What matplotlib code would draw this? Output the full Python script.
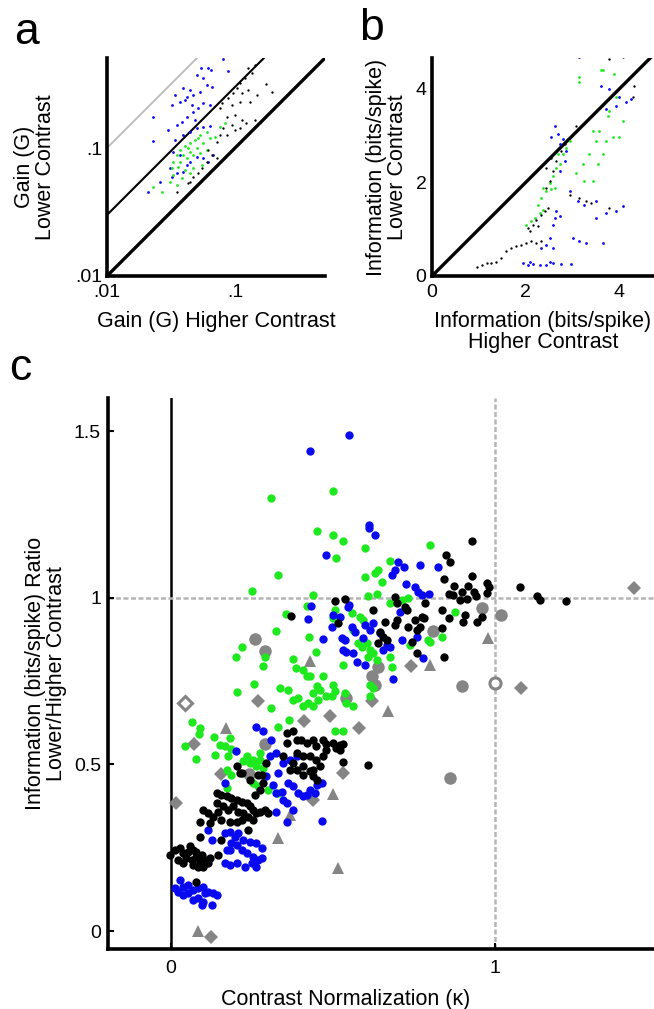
import numpy as np
import matplotlib.pyplot as plt

plt.rcParams['font.family'] = ['Liberation Sans', 'DejaVu Sans']

BLUE = '#0a0af0'
GREEN = '#1ee81e'
GRAY = '#858585'

# ---- panel a: gain (G), higher vs lower contrast ----
gain_hi_blue = [0.0811, 0.0543, 0.0619, 0.0650, 0.0877, 0.0502, 0.0566, 0.0446, 0.0395, 0.0340,
                0.0420, 0.0473, 0.0533, 0.0601, 0.0658, 0.0320, 0.0372, 0.0407, 0.0459, 0.0518,
                0.0566, 0.0638, 0.0230, 0.0301, 0.0350, 0.0383, 0.0420, 0.0473, 0.0488, 0.0340,
                0.0395, 0.0446, 0.0502, 0.0566, 0.0638, 0.0230, 0.0330, 0.0372, 0.0420, 0.0310,
                0.0350, 0.0446, 0.0502, 0.0566, 0.0619, 0.0678, 0.0259, 0.0210, 0.0395, 0.0320]
gain_lo_blue = [0.497, 0.425, 0.420, 0.407, 0.403, 0.372, 0.351, 0.284, 0.293, 0.260,
                0.252, 0.260, 0.276, 0.311, 0.302, 0.217, 0.230, 0.237, 0.217, 0.204,
                0.223, 0.217, 0.176, 0.138, 0.151, 0.161, 0.176, 0.192, 0.166, 0.116,
                0.126, 0.134, 0.143, 0.147, 0.149, 0.114, 0.0938, 0.0883, 0.0738, 0.0695,
                0.0635, 0.0783, 0.0857, 0.0832, 0.0783, 0.0883, 0.0546, 0.0456, 0.0655, 0.0597]
gain_hi_green = [0.0601, 0.0533, 0.0488, 0.0446, 0.0407, 0.0372, 0.0350, 0.0395, 0.0446, 0.0502,
                 0.0566, 0.0638, 0.0698, 0.0330, 0.0372, 0.0420, 0.0473, 0.0533, 0.0601, 0.0320,
                 0.0361, 0.0407, 0.0473, 0.0550, 0.0330, 0.0383, 0.0446, 0.0310, 0.0350, 0.0230,
                 0.0267, 0.0764, 0.0836, 0.0433, 0.0518]
gain_lo_green = [0.134, 0.126, 0.116, 0.109, 0.103, 0.0966, 0.0883, 0.0883, 0.0938, 0.0995,
                 0.109, 0.119, 0.123, 0.0783, 0.0783, 0.0832, 0.0883, 0.0910, 0.0966, 0.0695,
                 0.0716, 0.0675, 0.0695, 0.0738, 0.0615, 0.0579, 0.0635, 0.0546, 0.0514, 0.0499,
                 0.0456, 0.147, 0.156, 0.0995, 0.119]
gain_hi_black = [0.127, 0.143, 0.135, 0.120, 0.109, 0.103, 0.0970, 0.113, 0.127, 0.175,
                 0.194, 0.148, 0.0887, 0.0787, 0.0764, 0.0942, 0.109, 0.131, 0.0861, 0.100,
                 0.113, 0.123, 0.143, 0.0942, 0.0811, 0.0764, 0.0861, 0.100, 0.109, 0.0719,
                 0.0619, 0.0658, 0.0719, 0.0601, 0.0550, 0.0518, 0.0473, 0.0446, 0.0350, 0.0433]
gain_lo_black = [0.420, 0.446, 0.384, 0.351, 0.321, 0.293, 0.268, 0.268, 0.284, 0.315,
                 0.276, 0.260, 0.244, 0.223, 0.204, 0.217, 0.230, 0.230, 0.176, 0.181,
                 0.166, 0.156, 0.166, 0.151, 0.143, 0.126, 0.126, 0.138, 0.143, 0.112,
                 0.0966, 0.0883, 0.0832, 0.0783, 0.0695, 0.0635, 0.0597, 0.0546, 0.0456, 0.0530]

# ---- panel b: information (bits/spike), higher vs lower contrast ----
info_hi_black = [0.951, 1.057, 1.164, 1.27, 1.376, 1.483, 1.589, 1.696, 1.802, 1.908,
                 2.015, 2.121, 2.227, 2.334, 2.05, 2.157, 2.227, 2.334, 2.405, 2.476,
                 2.086, 2.263, 2.44, 2.511, 2.582, 2.653, 2.759, 2.83, 2.44, 2.547,
                 2.936, 3.149, 3.291, 3.397, 3.788, 4.32, 4.284, 3.078, 4.07, 3.788]
info_lo_black = [0.201, 0.237, 0.272, 0.272, 0.308, 0.380, 0.524, 0.595, 0.631, 0.667,
                 0.703, 0.738, 0.703, 0.738, 1.025, 1.097, 1.205, 1.312, 1.384, 1.456,
                 0.954, 1.061, 1.886, 2.029, 2.244, 2.459, 2.674, 2.818, 2.316, 2.531,
                 1.742, 1.671, 1.6, 1.563, 1.456, 4.072, 3.821, 3.212, 4.68, 4.645]
info_hi_green = [2.015, 2.121, 2.192, 2.298, 2.369, 2.263, 2.334, 2.44, 2.547, 2.618,
                 2.369, 2.511, 2.582, 2.653, 2.724, 2.795, 2.865, 2.688, 2.936, 3.149,
                 3.149, 3.078, 3.22, 3.362, 3.504, 3.433, 3.575, 3.717, 3.859, 4.0,
                 3.256, 3.433, 3.646, 3.752, 3.93, 3.646, 3.894, 3.788, 4.07, 3.539, 3.61]
info_lo_green = [1.097, 1.169, 1.24, 1.348, 1.42, 1.527, 1.671, 1.814, 1.85, 1.886,
                 1.886, 1.993, 2.137, 2.316, 2.388, 2.603, 2.746, 2.603, 2.889, 4.144,
                 4.251, 2.208, 2.388, 2.603, 2.889, 3.104, 3.104, 2.889, 2.961, 2.961,
                 2.029, 2.029, 2.603, 3.427, 3.821, 4.394, 4.323, 3.534, 3.319, 2.388, 4.394]
info_hi_blue = [3.149, 3.61, 3.788, 4.0, 4.142, 4.249, 3.93, 3.717, 2.617, 2.547,
                2.688, 2.795, 2.724, 2.865, 2.83, 2.724, 2.936, 3.114, 3.256, 3.504,
                3.717, 3.93, 4.07, 3.504, 3.007, 3.149, 3.291, 3.646, 2.653, 2.617,
                2.582, 2.724, 2.511, 2.44, 2.582, 2.334, 1.944, 2.05, 2.157, 2.298,
                2.44, 2.582, 2.759, 2.972, 2.086, 2.511]
info_lo_blue = [4.681, 4.072, 4.0, 3.821, 3.713, 3.785, 3.642, 3.570, 3.212, 2.961,
                3.032, 2.925, 2.818, 2.674, 2.459, 2.244, 1.814, 1.6, 1.527, 1.6,
                1.348, 1.384, 1.492, 1.24, 0.81, 0.738, 0.703, 0.703, 1.384, 1.24,
                1.097, 1.276, 0.81, 0.667, 0.595, 0.595, 0.272, 0.237, 0.251, 0.237,
                0.237, 0.272, 0.251, 0.251, 0.308, 0.308]

# ---- panel c: contrast normalization (kappa) vs information ratio ----
kappa_black = [0.86, 0.844, 0.928, 0.873, 0.899, 0.918, 0.936, 0.941, 0.975, 0.981,
               0.975, 1.078, 0.857, 0.872, 0.893, 0.913, 0.506, 0.537, 0.625, 0.692,
               0.697, 0.723, 0.73, 0.785, 0.836, 0.908, 0.901, 0.857, 0.944, 0.96,
               0.661, 0.697, 0.692, 0.733, 0.754, 0.774, 0.781, 0.769, 0.761, 0.836,
               0.517, 0.645, 0.656, 0.666, 0.64, 0.743, 0.761, 0.843,
               0.93, 0.85, 1.13, 1.14, 1.22,
               0.371, 0.357, 0.377, 0.357, 0.388, 0.403, 0.419, 0.439, 0.449, 0.47,
               0.48, 0.388, 0.408, 0.429, 0.449, 0.46, 0.439, 0.408, 0.378, 0.367,
               0.47, 0.347, 0.205, 0.218, 0.28, 0.295,
               0.499, 0.522, 0.522, 0.53, 0.607, 0.48, 0.51, 0.53,
               0.213, 0.244, 0.269, 0.285, 0.275, 0.259, 0.388, 0.408, 0.429, 0.439, 0.45,
               0.141, 0.156, 0.172, 0.187, 0.203, 0.218, 0.234, 0.244, 0.254, 0.264,
               0.275, 0.29, 0.3, 0.141, 0.162, 0.177, 0.192, 0.208, 0.223, 0.239,
               0.254, 0.218, 0.1, 0.115, 0.131, 0.146, 0.089, 0.12, 0.156, 0.182,
               0.203, 0.239, 0.089, 0.156,
               -0.003, 0.012, 0.028, 0.038, 0.053, 0.069, 0.048, 0.064, 0.079, 0.089,
               0.105, 0.115, 0.1, 0.084, 0.069, 0.038, 0.023, 0.12, 0.059, 0.079, 0.095,
               0.079, 0.146]
ratio_black = [1.107, 1.057, 1.066, 1.037, 1.019, 1.037, 1.019, 1.007, 1.044, 1.034,
               1.014, 1.034, 1.011, 1.009, 0.994, 0.996, 0.992, 0.996, 0.964, 1.004,
               0.984, 0.974, 0.964, 0.984, 0.964, 0.949, 0.929, 0.939, 0.929, 0.944,
               0.929, 0.934, 0.919, 0.914, 0.934, 0.944, 0.939, 0.914, 0.904, 0.909,
               0.924, 0.899, 0.884, 0.874, 0.864, 0.869, 0.836, 0.824,
               1.17, 1.13, 1.005, 0.995, 0.991,
               0.946, 0.594, 0.599, 0.564, 0.574, 0.574, 0.564, 0.574, 0.554, 0.574,
               0.544, 0.534, 0.524, 0.524, 0.514, 0.494, 0.483, 0.494, 0.504, 0.483,
               0.524, 0.524, 0.496, 0.474, 0.469, 0.504,
               0.564, 0.559, 0.544, 0.506, 0.497, 0.56, 0.55, 0.56,
               0.474, 0.454, 0.469, 0.444, 0.424, 0.409, 0.484, 0.469, 0.479, 0.464, 0.454,
               0.414, 0.409, 0.404, 0.398, 0.393, 0.388, 0.384, 0.374, 0.363, 0.353,
               0.358, 0.363, 0.353, 0.384, 0.374, 0.363, 0.374, 0.358, 0.353, 0.343,
               0.333, 0.333, 0.363, 0.353, 0.343, 0.358, 0.328, 0.323, 0.333, 0.328,
               0.328, 0.303, 0.283, 0.273,
               0.229, 0.243, 0.248, 0.233, 0.238, 0.243, 0.218, 0.213, 0.223, 0.208,
               0.213, 0.203, 0.193, 0.193, 0.198, 0.203, 0.213, 0.218, 0.254, 0.238, 0.228,
               0.148, 0.228]

kappa_blue = [0.55, 0.43, 0.61, 0.61, 0.63, 0.48, 0.55,
              0.702, 0.718, 0.692, 0.682, 0.769, 0.823, 0.726, 0.754, 0.764, 0.774,
              0.798, 0.548, 0.501, 0.496, 0.522, 0.558, 0.568, 0.599, 0.625, 0.615,
              0.594, 0.527, 0.537, 0.532, 0.542, 0.563, 0.573, 0.599, 0.645, 0.666,
              0.676, 0.656, 0.712, 0.759, 0.777, 0.687, 0.707,
              0.434, 0.422, 0.468, 0.262, 0.285, 0.308, 0.201, 0.305, 0.326, 0.347,
              0.331, 0.367, 0.388,
              0.167, 0.295, 0.316, 0.326, 0.342, 0.347, 0.357, 0.362, 0.377, 0.393,
              0.408, 0.419, 0.429, 0.445, 0.45, 0.465, 0.377, 0.326, 0.357, 0.465,
              0.115, 0.126, 0.167, 0.182, 0.197, 0.208, 0.223, 0.244, 0.264, 0.28,
              0.187, 0.203, 0.218, 0.182, 0.234, 0.254, 0.269, 0.28, 0.264, 0.249,
              0.167, 0.182, 0.203, 0.228, 0.172,
              0.028, 0.012, 0.038, 0.054, 0.069, 0.084, 0.1, 0.115, 0.131, 0.141,
              0.069, 0.084, 0.1, 0.126, 0.095, 0.054, 0.038, 0.023, 0.105]
ratio_blue = [1.49, 1.44, 1.22, 1.21, 1.19, 1.13, 0.98,
              1.109, 1.094, 1.084, 1.069, 1.099, 1.092, 1.042, 1.034, 1.019, 1.009,
              1.011, 0.974, 0.949, 0.914, 0.944, 0.914, 0.899, 0.919, 0.924, 0.904,
              0.879, 0.879, 0.874, 0.844, 0.839, 0.834, 0.809, 0.799, 0.894, 0.859,
              0.854, 0.844, 0.874, 0.882, 0.819, 0.756, 0.959,
              0.976, 0.936, 0.876, 0.612, 0.599, 0.574, 0.541, 0.524, 0.534, 0.504,
              0.474, 0.514, 0.524,
              0.444, 0.464, 0.438, 0.414, 0.418, 0.394, 0.384, 0.444, 0.434, 0.414,
              0.404, 0.409, 0.424, 0.414, 0.438, 0.444, 0.363, 0.358, 0.328, 0.33,
              0.303, 0.273, 0.293, 0.298, 0.283, 0.293, 0.273, 0.268, 0.263, 0.248,
              0.263, 0.258, 0.243, 0.243, 0.233, 0.223, 0.213, 0.218, 0.193, 0.203,
              0.203, 0.198, 0.203, 0.193, 0.243,
              0.153, 0.128, 0.133, 0.138, 0.123, 0.128, 0.133, 0.118, 0.113, 0.108,
              0.093, 0.098, 0.088, 0.078, 0.078, 0.113, 0.108, 0.118, 0.113]

kappa_green = [0.31, 0.50, 0.45, 0.50, 0.53, 0.60, 0.51, 0.33, 0.25, 0.44, 0.80,
               0.599, 0.63, 0.64, 0.651, 0.677, 0.609, 0.635, 0.677, 0.712, 0.733,
               0.877, 0.506, 0.501, 0.558, 0.584, 0.594, 0.563, 0.578, 0.589, 0.604,
               0.615, 0.625, 0.609, 0.635, 0.677, 0.682, 0.738, 0.795, 0.8, 0.836,
               0.532, 0.501, 0.506, 0.496, 0.537, 0.542, 0.563, 0.615, 0.625, 0.615,
               0.532, 0.506,
               0.419, 0.354, 0.326, 0.427, 0.218, 0.2, 0.29, 0.285, 0.376, 0.448,
               0.385, 0.408, 0.419, 0.429, 0.45, 0.439, 0.46, 0.47, 0.257, 0.203,
               0.336, 0.36, 0.378, 0.393, 0.408, 0.424, 0.439, 0.455, 0.48, 0.309,
               0.064, 0.089, 0.088, 0.133, 0.182, 0.043, 0.151, 0.167, 0.187, 0.33,
               0.365, 0.136, 0.079, 0.234, 0.254, 0.275, 0.264, 0.244, 0.275, 0.285,
               0.223, 0.177, 0.172,
               0.187, 0.254, 0.269, 0.3, 0.331, 0.172]
ratio_green = [1.30, 1.32, 1.20, 1.19, 1.17, 1.15, 1.12, 1.07, 1.02, 1.01, 1.16,
               1.064, 1.074, 1.084, 1.049, 1.111, 1.006, 1.011, 0.984, 0.994, 0.999,
               0.959, 0.964, 0.939, 0.954, 0.944, 0.934, 0.904, 0.864, 0.854, 0.864,
               0.844, 0.834, 0.824, 0.814, 0.824, 0.794, 0.859, 0.874, 0.869, 0.882,
               0.799, 0.739, 0.719, 0.704, 0.714, 0.684, 0.674, 0.739, 0.729, 0.704,
               0.599, 0.599,
               0.976, 0.951, 0.901, 0.884, 0.854, 0.824, 0.824, 0.797, 0.816, 0.839,
               0.789, 0.784, 0.764, 0.764, 0.734, 0.714, 0.724, 0.764, 0.742, 0.717,
               0.729, 0.722, 0.694, 0.699, 0.674, 0.684, 0.674, 0.694, 0.704, 0.669,
               0.626, 0.609, 0.591, 0.581, 0.579, 0.554, 0.559, 0.554, 0.546, 0.612,
               0.634, 0.528, 0.516, 0.524, 0.514, 0.514, 0.494, 0.504, 0.534, 0.489,
               0.509, 0.524, 0.484,
               0.469, 0.444, 0.434, 0.424, 0.414, 0.429]

kappa_gray_circle = [0.96, 1.02, 0.81, 0.90, 0.64, 0.62, 0.63, 0.26, 0.29, 0.54, 0.29, 0.24, 0.86]
ratio_gray_circle = [0.97, 0.95, 0.90, 0.735, 0.794, 0.764, 0.739, 0.876, 0.84, 0.70, 0.56, 0.47, 0.46]
kappa_gray_diamond = [1.43, 1.08, 0.74, 0.62, 0.49, 0.58, 0.41, 0.27, 0.07, 0.156, 0.017, 0.125, 0.53, 0.44]
ratio_gray_diamond = [1.03, 0.73, 0.795, 0.69, 0.645, 0.61, 0.63, 0.69, 0.56, 0.47, 0.384, -0.017, 0.474, 0.394]
kappa_gray_triangle = [0.98, 0.80, 0.67, 0.43, 0.17, 0.50, 0.33, 0.515, 0.084, 0.367]
ratio_gray_triangle = [0.88, 0.80, 0.66, 0.81, 0.61, 0.41, 0.28, 0.19, 0.0, 0.348]
kappa_gray_open_circle = [1.00]
ratio_gray_open_circle = [0.745]
kappa_gray_open_diamond = [0.045]
ratio_gray_open_diamond = [0.685]

fig = plt.figure(figsize=(6.54, 10.09), dpi=100)

LABEL_FS = 15.5
TICK_FS = 14


def style_axes(ax, lw=2.6):
    for side in ['top', 'right']:
        ax.spines[side].set_visible(False)
    for side in ['left', 'bottom']:
        ax.spines[side].set_linewidth(lw)
    ax.tick_params(direction='in', length=4, width=1.5, labelsize=TICK_FS, pad=5)


# ---- panel a ----
ax_a = fig.add_axes([107 / 654, 1 - 276 / 1009, 218 / 654, 218 / 1009])
lims = np.array([0.01, 0.505])
ax_a.set_xscale('log')
ax_a.set_yscale('log')
ax_a.plot(lims, 10 * lims, color='#bbbbbb', lw=1.3, zorder=1)
ax_a.plot(lims, 3 * lims, color='black', lw=1.5, zorder=1)
ax_a.plot(lims, lims, color='black', lw=2.4, zorder=1)
ax_a.plot(gain_hi_blue, gain_lo_blue, 'o', color=BLUE, ms=2, mew=0, zorder=2)
ax_a.plot(gain_hi_green, gain_lo_green, 'o', color=GREEN, ms=2, mew=0, zorder=2)
ax_a.plot(gain_hi_black, gain_lo_black, 'o', color='black', ms=1.7, mew=0, zorder=2)
ax_a.set_xlim(lims)
ax_a.set_ylim(lims)
ax_a.set_xticks([0.01, 0.1])
ax_a.set_xticklabels(['.01', '.1'])
ax_a.set_yticks([0.01, 0.1])
ax_a.set_yticklabels(['.01', '.1'])
ax_a.minorticks_off()
style_axes(ax_a)
ax_a.tick_params(axis='x', length=0, pad=6)
ax_a.tick_params(axis='y', length=0, pad=3)
ax_a.set_xlabel('Gain (G) Higher Contrast', fontsize=LABEL_FS)
ax_a.set_ylabel('Gain (G)\nLower Contrast', fontsize=LABEL_FS, linespacing=1.0)
ax_a.xaxis.set_label_coords(0.5, -0.16)
ax_a.yaxis.set_label_coords(-0.235, 0.5)

# ---- panel b ----
ax_b = fig.add_axes([432 / 654, 1 - 276 / 1009, 222 / 654, 218 / 1009])
ax_b.plot([0, 5], [0, 5], color='black', lw=2.4, zorder=1)
ax_b.plot(info_hi_green, info_lo_green, 'o', color=GREEN, ms=2, mew=0, zorder=2)
ax_b.plot(info_hi_blue, info_lo_blue, 'o', color=BLUE, ms=2, mew=0, zorder=2)
ax_b.plot(info_hi_black, info_lo_black, 'o', color='black', ms=1.7, mew=0, zorder=2)
ax_b.set_xlim(0, 4.74)
ax_b.set_ylim(0, 4.66)
ax_b.set_xticks([0, 2, 4])
ax_b.set_yticks([0, 2, 4])
style_axes(ax_b)
ax_b.tick_params(axis='x', length=0, pad=6)
ax_b.tick_params(axis='y', length=0, pad=4)
ax_b.set_xlabel('Information (bits/spike)\nHigher Contrast', fontsize=LABEL_FS, linespacing=1.0)
ax_b.set_ylabel('Information (bits/spike)\nLower Contrast', fontsize=LABEL_FS, linespacing=1.0)
ax_b.xaxis.set_label_coords(0.5, -0.16)
ax_b.yaxis.set_label_coords(-0.11, 0.5)

# ---- panel c ----
ax_c = fig.add_axes([108 / 654, 1 - 949 / 1009, 546 / 654, 551 / 1009])
ax_c.axvline(0, color='black', lw=1.8, zorder=1)
ax_c.axvline(1, color='#b5b5b5', lw=1.8, ls=(0, (2, 1)), zorder=1)
ax_c.axhline(1, color='#b5b5b5', lw=1.8, ls=(0, (2, 1)), zorder=1)
ax_c.plot(kappa_gray_circle, ratio_gray_circle, 'o', color=GRAY, ms=9, mew=0, zorder=2)
ax_c.plot(kappa_gray_diamond, ratio_gray_diamond, 'D', color=GRAY, ms=7, mew=0, zorder=2)
ax_c.plot(kappa_gray_triangle, ratio_gray_triangle, '^', color=GRAY, ms=9, mew=0, zorder=2)
ax_c.plot(kappa_gray_open_circle, ratio_gray_open_circle, 'o', mfc='white', mec=GRAY,
          ms=8, mew=2.2, zorder=2)
ax_c.plot(kappa_gray_open_diamond, ratio_gray_open_diamond, 'D', mfc='white', mec=GRAY,
          ms=7, mew=2.2, zorder=2)
ax_c.plot(kappa_green, ratio_green, 'o', color=GREEN, ms=6, mew=0, zorder=3)
ax_c.plot(kappa_blue, ratio_blue, 'o', color=BLUE, ms=6, mew=0, zorder=4)
ax_c.plot(kappa_black, ratio_black, 'o', color='black', ms=6, mew=0, zorder=5)
ax_c.set_xlim(-0.194, 1.491)
ax_c.set_ylim(-0.054, 1.60)
ax_c.set_xticks([0, 1])
ax_c.set_yticks([0, 0.5, 1, 1.5])
ax_c.set_yticklabels(['0', '0.5', '1', '1.5'])
style_axes(ax_c)
ax_c.tick_params(axis='x', pad=8)
ax_c.set_xlabel('Contrast Normalization (\u03ba)', fontsize=LABEL_FS)
ax_c.set_ylabel('Information (bits/spike) Ratio\nLower/Higher Contrast', fontsize=LABEL_FS,
                linespacing=1.0)
ax_c.xaxis.set_label_coords(0.436, -0.072)
ax_c.yaxis.set_label_coords(-0.075, 0.5)

# panel letters
fig.text(26 / 654, 1 - 33 / 1009, 'a', fontsize=32, ha='center', va='center')
fig.text(371 / 654, 1 - 28 / 1009, 'b', fontsize=32, ha='center', va='center')
fig.text(20 / 654, 1 - 368 / 1009, 'c', fontsize=32, ha='center', va='center')

fig.savefig('out.png', dpi=100)
